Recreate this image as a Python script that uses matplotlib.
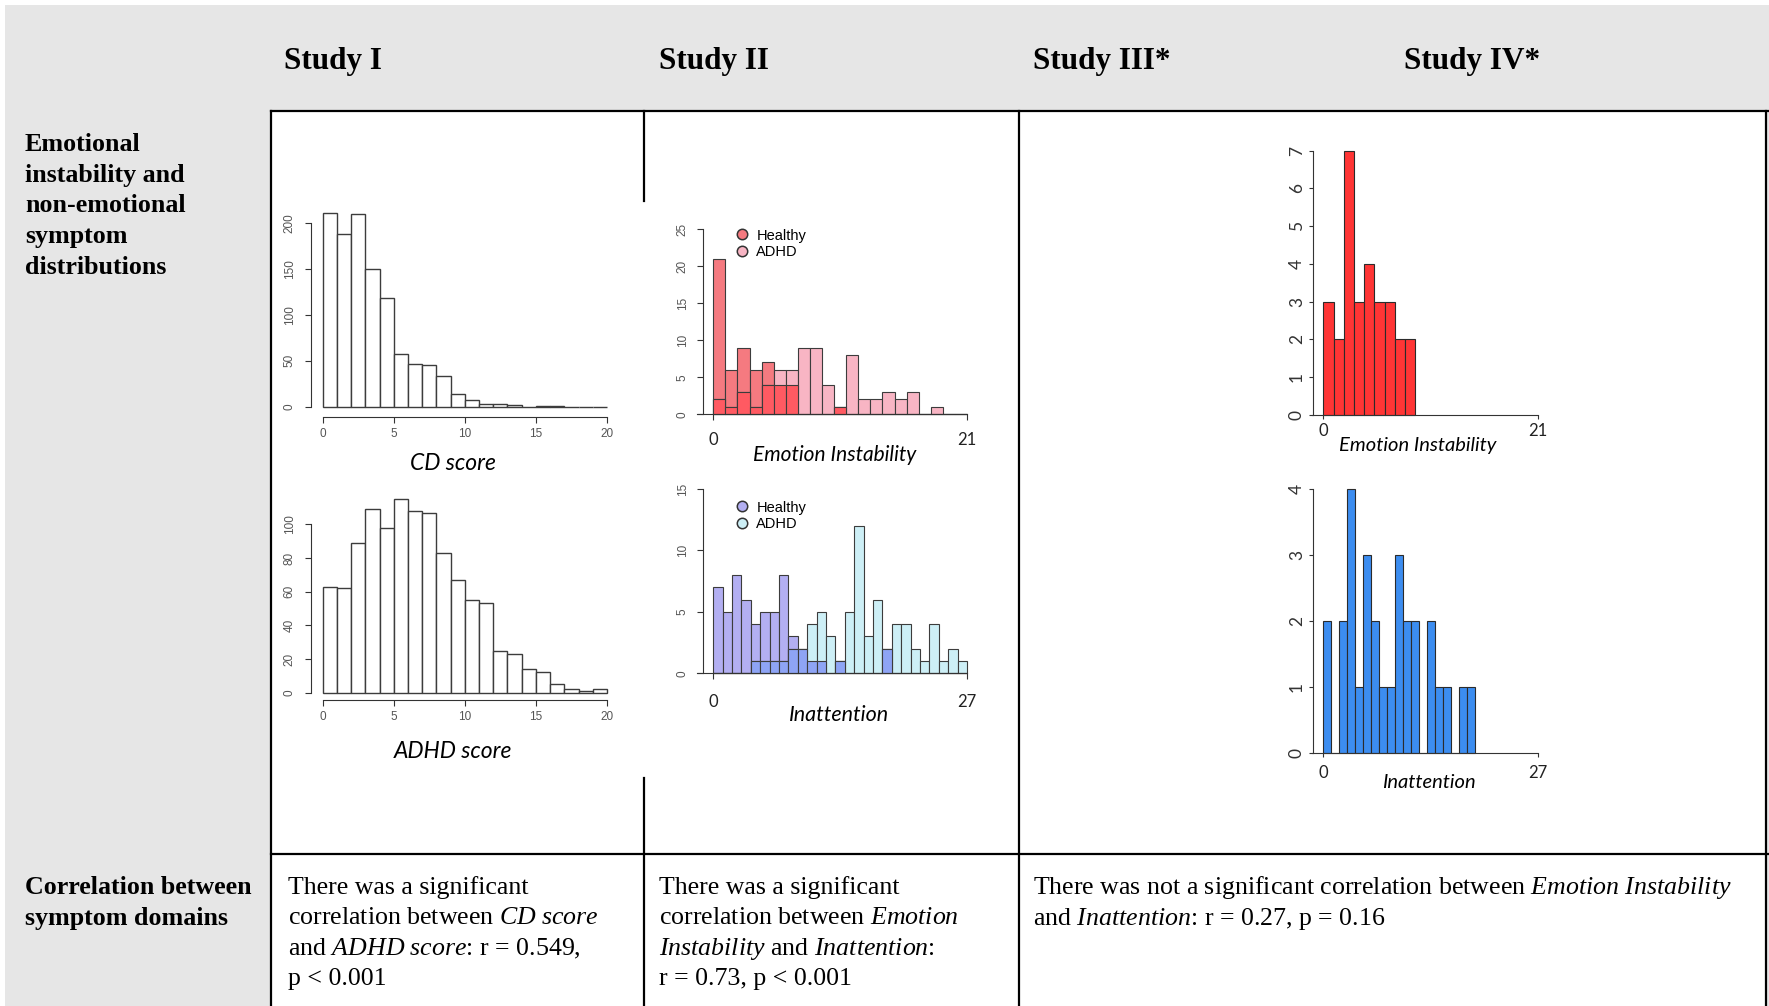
import numpy as np
import matplotlib
matplotlib.use("Agg")
import matplotlib.pyplot as plt
from matplotlib.patches import Rectangle
from matplotlib.lines import Line2D

W, H = 1769, 1006

# ---- data ----
headers = ["Study I", "Study II", "Study III*", "Study IV*"]
row1_label = ["Emotional", "instability and", "non-emotional", "symptom", "distributions"]
row2_label = ["Correlation between", "symptom domains"]

# Study I (bins of width 1, 0..20)
cd_counts = [211, 188, 210, 150, 119, 57, 47, 46, 33, 14, 7, 3, 3, 2, 0, 1, 1, 0, 0, 0]
adhd_counts = [63, 62, 89, 109, 98, 115, 108, 107, 83, 67, 55, 53, 25, 23, 14, 12, 5, 2, 1, 2]

# Study II (bins of width 1)
emo_healthy = [21, 6, 9, 6, 7, 4, 4, 0, 0, 0, 1, 0, 0, 0, 0, 0, 0, 0, 0, 0, 0]
emo_adhd = [2, 1, 3, 1, 4, 6, 6, 9, 9, 4, 1, 8, 2, 2, 3, 2, 3, 0, 1, 0, 0]
inatt_healthy = [7, 5, 8, 6, 4, 5, 5, 8, 3, 2, 1, 1, 0, 1, 0, 0, 0, 0, 2, 0, 0, 0, 0, 0, 0, 0, 0]
inatt_adhd = [0, 0, 0, 0, 1, 1, 1, 1, 2, 2, 4, 5, 3, 1, 5, 12, 3, 6, 2, 4, 4, 2, 1, 4, 1, 2, 1]

# Study III/IV
s4_emo = [3, 2, 7, 3, 4, 3, 3, 2, 2]
s4_inatt = [2, 0, 2, 4, 1, 3, 2, 1, 1, 3, 2, 2, 0, 2, 1, 1, 0, 1, 1]

text_s1 = ["There was a significant",
           r"correlation between $\mathit{CD\ score}$",
           r"and $\mathit{ADHD\ score}$: r = 0.549,",
           "p < 0.001"]
text_s2 = ["There was a significant",
           r"correlation between $\mathit{Emotion}$",
           r"$\mathit{Instability}$ and $\mathit{Inattention}$:",
           "r = 0.73, p < 0.001"]
text_s3 = [r"There was not a significant correlation between $\mathit{Emotion\ Instability}$",
           r"and $\mathit{Inattention}$: r = 0.27, p = 0.16"]

plt.rcParams["mathtext.fontset"] = "custom"
plt.rcParams["mathtext.rm"] = "Liberation Serif"
plt.rcParams["mathtext.it"] = "Liberation Serif:italic"

fig = plt.figure(figsize=(W / 100, H / 100), dpi=100)
bg = fig.add_axes([0, 0, 1, 1])
bg.set_xlim(0, W)
bg.set_ylim(H, 0)
bg.axis("off")

# table background and grid
bg.add_patch(Rectangle((5, 5), W - 5, H - 5, color="#E6E6E6", lw=0))
bg.add_patch(Rectangle((271, 110.5), 1766 - 271, H - 110.5, color="white", lw=0))
lw_tab = 1.6
bg.plot([271, W], [110.5, 110.5], color="k", lw=lw_tab)
bg.plot([271, W], [854, 854], color="k", lw=lw_tab)
for xv in [271, 1019, 1766]:
    bg.plot([xv, xv], [110.5, H], color="k", lw=lw_tab)
bg.plot([644, 644], [110.5, 201], color="k", lw=lw_tab)
bg.plot([644, 644], [778, H], color="k", lw=lw_tab)

serif = "Liberation Serif"
for name, xh in zip(headers, [284, 659, 1033, 1404]):
    bg.text(xh, 69, name, family=serif, weight="bold", fontsize=22.5, va="baseline")
for i, line in enumerate(row1_label):
    bg.text(25, 151 + i * 30.7, line, family=serif, weight="bold", fontsize=18.7, va="baseline")
for i, line in enumerate(row2_label):
    bg.text(25, 894 + i * 30.5, line, family=serif, weight="bold", fontsize=18.7, va="baseline")
for xt, lines in [(288, text_s1), (659, text_s2), (1033, text_s3)]:
    for i, line in enumerate(lines):
        bg.text(xt, 894 + i * 30.5, line, family=serif, fontsize=18.6, va="baseline")


def hist_axes(px0, px1, xmax, ybase, ytop, ymax, xlim, ylim):
    ppx = (px1 - px0) / xmax
    ppy = (ybase - ytop) / ymax
    left = px0 + xlim[0] * ppx
    right = px0 + xlim[1] * ppx
    bot = ybase - ylim[0] * ppy
    top = ybase - ylim[1] * ppy
    ax = fig.add_axes([left / W, 1 - bot / H, (right - left) / W, (bot - top) / H])
    ax.set_xlim(xlim)
    ax.set_ylim(ylim)
    ax.patch.set_visible(False)
    ax.spines["top"].set_visible(False)
    ax.spines["right"].set_visible(False)
    return ax, ppx, ppy


axis_col = "#333333"
edge = "#3c3c3c"

# ---- Study I: R-style white histograms ----
for counts, ybase, ytop, ymax, xaxis_px, ystep, ylim_top in [
        (cd_counts, 406.7, 223.3, 200, 416.7, 50, 215),
        (adhd_counts, 692.7, 524.3, 100, 700.0, 20, 118)]:
    ppy0 = (ybase - ytop) / ymax
    ax, ppx, ppy = hist_axes(322.7, 607, 20, ybase, ytop, ymax, (-1.6, 20.6),
                             (-(xaxis_px - ybase + 3) / ppy0, ylim_top))
    ax.bar(np.arange(len(counts)), counts, width=1, align="edge", color="white",
           edgecolor=edge, lw=1.0)
    ax.spines["left"].set_position(("data", (311 - 322.7) / ppx))
    ax.spines["left"].set_bounds(0, ymax)
    ax.spines["bottom"].set_position(("data", -(xaxis_px - ybase) / ppy))
    ax.spines["bottom"].set_bounds(0, 20)
    for s in ["left", "bottom"]:
        ax.spines[s].set_color(axis_col)
        ax.spines[s].set_linewidth(0.8)
    yt = np.arange(0, ymax + 1, ystep)
    ax.set_yticks(yt, [str(v) for v in yt], rotation=90, va="center")
    ax.set_xticks([0, 5, 10, 15, 20])
    ax.tick_params(axis="y", length=4, width=0.8, color=axis_col, labelcolor="#555555",
                   labelsize=8.5, pad=7)
    ax.tick_params(axis="x", length=4, width=0.8, color=axis_col, labelcolor="#555555",
                   labelsize=8.5, pad=4)
    for t in ax.get_xticklabels() + ax.get_yticklabels():
        t.set_family("Liberation Sans")

bg.text(453, 464, "CD score", family="Lato", style="italic", fontsize=16.5, ha="center", va="center")
bg.text(453, 751, "ADHD score", family="Lato", style="italic", fontsize=16.5, ha="center", va="center")

# ---- Study II: overlaid healthy / ADHD histograms ----
study2 = [
    (emo_healthy, emo_adhd, 21, 414.3, 229, 25, 5, 26.2,
     ("#F57A80", "#F8B5C4", "#FF5A62"), 9, 244),
    (inatt_healthy, inatt_adhd, 27, 673.3, 489, 15, 5, 15.6,
     ("#B3AFF2", "#CDEFF6", "#8EA4F5"), 11, 516),
]
for healthy, adhd, xmax, ybase, ytop, ymax, ystep, ylim_top, cols, xpad, leg_y in study2:
    ax, ppx, ppy = hist_axes(713.3, 713.3 + 253.7, xmax, ybase, ytop, ymax,
                             (-1.8 * xmax / 21, xmax + 0.5), (-0.6 * ymax / 25, ylim_top))
    h = np.array(healthy)
    a = np.array(adhd)
    x = np.arange(len(h))
    ax.bar(x, h, width=1, align="edge", color=cols[0], edgecolor=edge, lw=0.8)
    ax.bar(x, a, width=1, align="edge", color=cols[1], edgecolor=edge, lw=0.8)
    ax.bar(x, np.minimum(h, a), width=1, align="edge", color=cols[2], edgecolor=edge, lw=0.8)
    ax.spines["left"].set_position(("data", (702.7 - 713.3) / ppx))
    ax.spines["left"].set_bounds(0, ymax)
    ax.spines["bottom"].set_position(("data", 0))
    ax.spines["bottom"].set_bounds((697 - 713.3) / ppx, xmax)
    for s in ["left", "bottom"]:
        ax.spines[s].set_color(axis_col)
        ax.spines[s].set_linewidth(0.8)
    yt = np.arange(0, ymax + 1, ystep)
    ax.set_yticks(yt, [str(v) for v in yt], rotation=90, va="center")
    ax.set_xticks([0, xmax], ["0", str(xmax)])
    ax.tick_params(axis="y", length=4, width=0.8, color=axis_col, labelcolor="#555555",
                   labelsize=8.5, pad=6)
    ax.tick_params(axis="x", length=4, width=0.8, color=axis_col, labelcolor="#222222",
                   labelsize=12, pad=xpad)
    for t in ax.get_yticklabels():
        t.set_family("Liberation Sans")
    for t in ax.get_xticklabels():
        t.set_family("Lato")
    handles = [Line2D([], [], ls="", marker="o", markersize=7.5, markerfacecolor=c,
                      markeredgecolor="#333333", markeredgewidth=1.1) for c in cols[:2]]
    ax.legend(handles, ["Healthy", "ADHD"], loc="center left",
              bbox_to_anchor=(736 / W, 1 - leg_y / H), bbox_transform=fig.transFigure,
              frameon=False, borderpad=0, borderaxespad=0, handlelength=0.8,
              handletextpad=0.6, labelspacing=0.2,
              prop={"family": "Liberation Sans", "size": 10.5})

bg.text(835, 455, "Emotion Instability", family="Lato", style="italic", fontsize=15,
        ha="center", va="center")
bg.text(839, 715, "Inattention", family="Lato", style="italic", fontsize=15.5,
        ha="center", va="center")

# ---- Study III/IV: single histograms ----
study4 = [
    (s4_emo, "#FF3535", 21, 415, 150.7, 7, 7.15, 2.5, (1418, 446), "Emotion Instability"),
    (s4_inatt, "#3C8DF0", 27, 753.3, 489, 4, 4.08, 5.5, (1429, 783), "Inattention"),
]
for counts, col, xmax, ybase, ytop, ymax, ylim_top, xpad, lab_xy, lab in study4:
    ax, ppx, ppy = hist_axes(1323.3, 1538.3, xmax, ybase, ytop, ymax,
                             (-1.6 * xmax / 21, xmax + 0.6), (-0.1 * ymax / 7, ylim_top))
    ax.bar(np.arange(len(counts)), counts, width=1, align="edge", color=col,
           edgecolor="#2b2b2b", lw=0.8)
    ax.spines["left"].set_position(("data", (1313.3 - 1323.3) / ppx))
    ax.spines["left"].set_bounds(0, ymax)
    ax.spines["bottom"].set_position(("data", 0))
    ax.spines["bottom"].set_bounds((1312 - 1323.3) / ppx, xmax)
    for s in ["left", "bottom"]:
        ax.spines[s].set_color(axis_col)
        ax.spines[s].set_linewidth(0.8)
    yt = np.arange(0, ymax + 1)
    ax.set_yticks(yt, [str(v) for v in yt], rotation=90, va="center")
    ax.set_xticks([0, xmax], ["0", str(xmax)])
    ax.tick_params(axis="y", length=3, width=0.8, color=axis_col, labelcolor="#333333",
                   labelsize=12.5, pad=3)
    ax.tick_params(axis="x", length=3, width=0.8, color=axis_col, labelcolor="#222222",
                   labelsize=12, pad=xpad)
    for t in ax.get_xticklabels() + ax.get_yticklabels():
        t.set_family("Lato")
    bg.text(lab_xy[0], lab_xy[1], lab, family="Lato", style="italic", fontsize=14.5,
            ha="center", va="center")

fig.savefig("out.png", dpi=100)
